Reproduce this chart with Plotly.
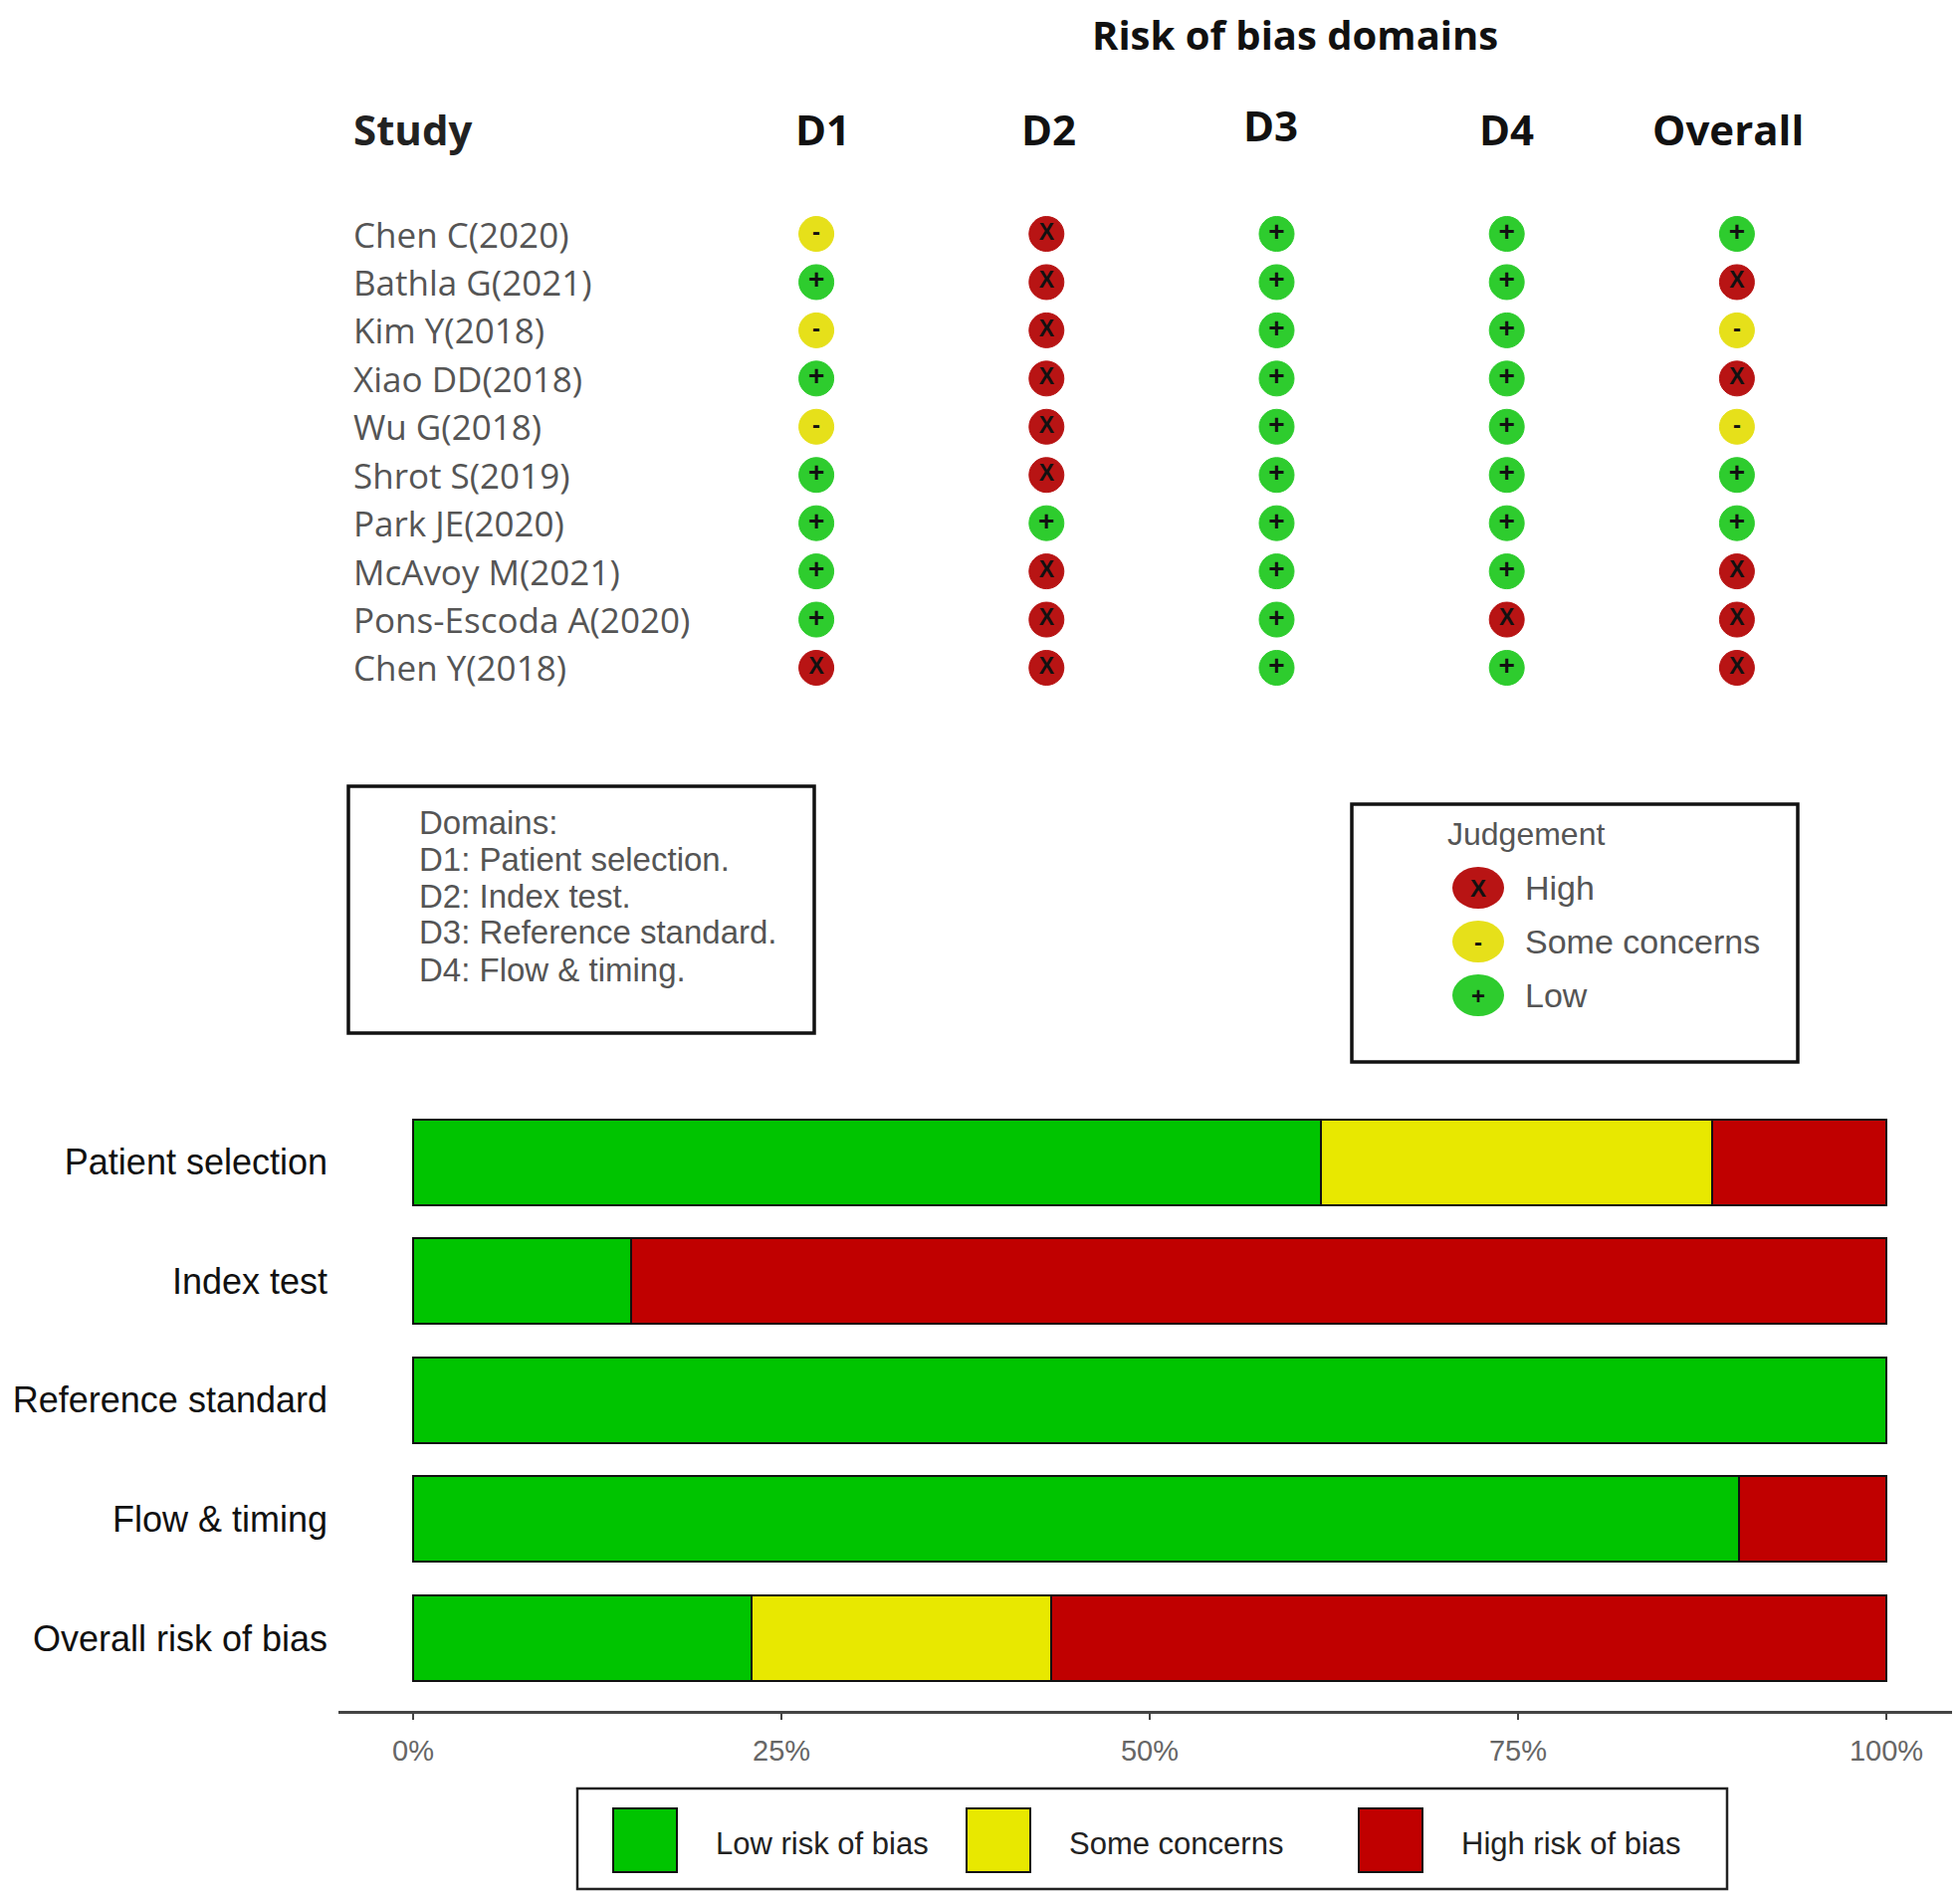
import plotly.graph_objects as go

W, H = 1969, 1902
OFF = 8  # page body margin around the plot div

# traffic light data
studies = ["Chen C(2020)", "Bathla G(2021)", "Kim Y(2018)", "Xiao DD(2018)", "Wu G(2018)",
           "Shrot S(2019)", "Park JE(2020)", "McAvoy M(2021)", "Pons-Escoda A(2020)", "Chen Y(2018)"]
domains = ["D1", "D2", "D3", "D4", "Overall"]
d1 = ["Some", "Low", "Some", "Low", "Some", "Low", "Low", "Low", "Low", "High"]
d2 = ["High", "High", "High", "High", "High", "High", "Low", "High", "High", "High"]
d3 = ["Low", "Low", "Low", "Low", "Low", "Low", "Low", "Low", "Low", "Low"]
d4 = ["Low", "Low", "Low", "Low", "Low", "Low", "Low", "Low", "High", "Low"]
overall = ["Low", "High", "Some", "High", "Some", "Low", "Low", "High", "High", "High"]

# summary bar data (percent)
bar_categories = ["Patient selection", "Index test", "Reference standard", "Flow & timing", "Overall risk of bias"]
low_pct = [61.6, 14.8, 100, 90.0, 23.0]
some_pct = [26.6, 0, 0, 0, 20.3]
high_pct = [11.8, 85.2, 0, 10.0, 56.7]

dot_colors = {"Low": "#2ecc2e", "Some": "#e6e01a", "High": "#b81414"}
dot_symbols = {"Low": "+", "Some": "-", "High": "X"}
dot_sizes = {"Low": 28, "Some": 24, "High": 23}
bar_colors = ["#00c400", "#e8e800", "#c00000"]

STUDY_FONT = "Open Sans"
ARIAL = "Liberation Sans, Arial"

FW, FH = W - OFF, H - OFF


def px(x):
    return (x - OFF) / FW


def py(y):
    return 1 - (y - OFF) / FH


fig = go.Figure()

# --- traffic light plot ---
columns = [d1, d2, d3, d4, overall]
for level in ["Low", "Some", "High"]:
    xs, ys = [], []
    for dom, col in zip(domains, columns):
        for s, v in zip(studies, col):
            if v == level:
                xs.append(dom)
                ys.append(s)
    fig.add_trace(go.Scatter(
        x=xs, y=ys, mode="markers+text", xaxis="x2", yaxis="y2",
        text=[dot_symbols[level]] * len(xs), textposition="middle center",
        textfont=dict(size=dot_sizes[level], color="#111", family=ARIAL, weight="bold"),
        marker=dict(size=35, color=dot_colors[level], line=dict(width=1, color=dot_colors[level])),
        showlegend=False, hoverinfo="x+y",
    ))

# --- summary bars ---
for name, vals, colr in zip(["Low risk of bias", "Some concerns", "High risk of bias"],
                            [low_pct, some_pct, high_pct], bar_colors):
    fig.add_trace(go.Bar(
        y=bar_categories, x=vals, orientation="h", name=name,
        marker=dict(color=colr, line=dict(color="#111", width=2)),
        showlegend=False,
    ))

annotations = []
# title and headers
annotations.append(dict(text="<b>Risk of bias domains</b>", xref="paper", yref="paper",
                        x=px(1301), y=py(34), xanchor="center", yanchor="middle", showarrow=False,
                        font=dict(family=STUDY_FONT, size=40, color="#111")))
annotations.append(dict(text="<b>Study</b>", xref="paper", yref="paper", x=px(353), y=py(130),
                        xanchor="left", yanchor="middle", showarrow=False,
                        font=dict(family=STUDY_FONT, size=42, color="#222")))
header_xshift = [6, 2, -6, 0, -9]
header_yshift = [0, 0, 4, 0, 0]
for dom, dx, dy in zip(domains, header_xshift, header_yshift):
    annotations.append(dict(text="<b>%s</b>" % dom, xref="x2", yref="paper", x=dom, y=py(129),
                            xanchor="center", yanchor="middle", showarrow=False,
                            xshift=dx, yshift=dy,
                            font=dict(family=STUDY_FONT, size=42, color="#111")))
for s in studies:
    annotations.append(dict(text=s, xref="paper", yref="y2", x=px(353), y=s,
                            xanchor="left", yanchor="middle", showarrow=False,
                            font=dict(family=STUDY_FONT, size=35, color="#555")))

# domains box text
domain_lines = ["Domains:", "D1: Patient selection.", "D2: Index test.",
                "D3: Reference standard.", "D4: Flow & timing."]
for i, line in enumerate(domain_lines):
    annotations.append(dict(text=line, xref="paper", yref="paper", x=px(419), y=py(826 + i * 37),
                            xanchor="left", yanchor="middle", showarrow=False,
                            font=dict(family=ARIAL, size=33, color="#555")))

# judgement legend
annotations.append(dict(text="Judgement", xref="paper", yref="paper", x=px(1452), y=py(838),
                        xanchor="left", yanchor="middle", showarrow=False,
                        font=dict(family=ARIAL, size=32, color="#555")))
shapes = []
for i, (lvl, lab) in enumerate([("High", "High"), ("Some", "Some concerns"), ("Low", "Low")]):
    cy = 892 + i * 54
    shapes.append(dict(type="circle", xref="paper", yref="paper",
                       x0=px(1459), x1=px(1511), y0=py(cy + 21), y1=py(cy - 21),
                       fillcolor=dot_colors[lvl], line=dict(width=0)))
    annotations.append(dict(text="<b>%s</b>" % dot_symbols[lvl], xref="paper", yref="paper", x=px(1485), y=py(cy),
                            xanchor="center", yanchor="middle", showarrow=False,
                            font=dict(family=ARIAL, size=24, color="#111")))
    annotations.append(dict(text=lab, xref="paper", yref="paper", x=px(1530), y=py(cy),
                            xanchor="left", yanchor="middle", showarrow=False,
                            font=dict(family=ARIAL, size=34, color="#555")))

# boxes
shapes.append(dict(type="rect", xref="paper", yref="paper", x0=px(350), x1=px(818), y0=py(1038), y1=py(790),
                   line=dict(color="#111", width=3.5)))
shapes.append(dict(type="rect", xref="paper", yref="paper", x0=px(1358), x1=px(1806), y0=py(1067), y1=py(808),
                   line=dict(color="#111", width=3.5)))

# bottom legend
shapes.append(dict(type="rect", xref="paper", yref="paper", x0=px(580), x1=px(1735), y0=py(1898), y1=py(1797),
                   line=dict(color="#222", width=2.5)))
for x0, colr, lab in zip([616, 971, 1365], bar_colors, ["Low risk of bias", "Some concerns", "High risk of bias"]):
    shapes.append(dict(type="rect", xref="paper", yref="paper", x0=px(x0), x1=px(x0 + 64),
                       y0=py(1881), y1=py(1817), fillcolor=colr, line=dict(color="#111", width=2)))
    annotations.append(dict(text=lab, xref="paper", yref="paper", x=px(x0 + 101), y=py(1852),
                            xanchor="left", yanchor="middle", showarrow=False,
                            font=dict(family=ARIAL, size=31, color="#222")))

fig.update_layout(
    width=FW, height=FH,
    margin=dict(l=0, r=0, t=0, b=0, autoexpand=False),
    paper_bgcolor="white", plot_bgcolor="white",
    barmode="stack", bargap=0.28,
    xaxis=dict(domain=[px(340), px(1966)], range=[-5.07, 104.8], automargin=False,
               tickvals=[0, 25, 50, 75, 100], ticktext=["0%", "25%", "50%", "75%", "100%"],
               showgrid=False, zeroline=False, showline=True, linecolor="#444", linewidth=2.5,
               ticks="outside", ticklen=6, tickcolor="#444", tickwidth=2, ticklabelstandoff=6,
               tickfont=dict(family=ARIAL, size=29, color="#666"), fixedrange=True),
    yaxis=dict(domain=[py(1719), py(1108)], range=[4.611, -0.5], automargin=False,
               categoryorder="array", categoryarray=bar_categories,
               showgrid=False, zeroline=False, showline=False, ticks="",
               ticklabelstandoff=10,
               tickfont=dict(family=ARIAL, size=36, color="#111"), fixedrange=True),
    xaxis2=dict(domain=[px(704.5), px(1860.5)], range=[-0.5, 4.5], automargin=False,
                categoryorder="array", categoryarray=domains, visible=False, anchor="y2"),
    yaxis2=dict(domain=[py(695.2), py(210.8)], range=[9.5, -0.5], automargin=False,
                categoryorder="array", categoryarray=studies, visible=False, anchor="x2"),
    annotations=annotations,
    shapes=shapes,
)

fig.write_html("out.html")
